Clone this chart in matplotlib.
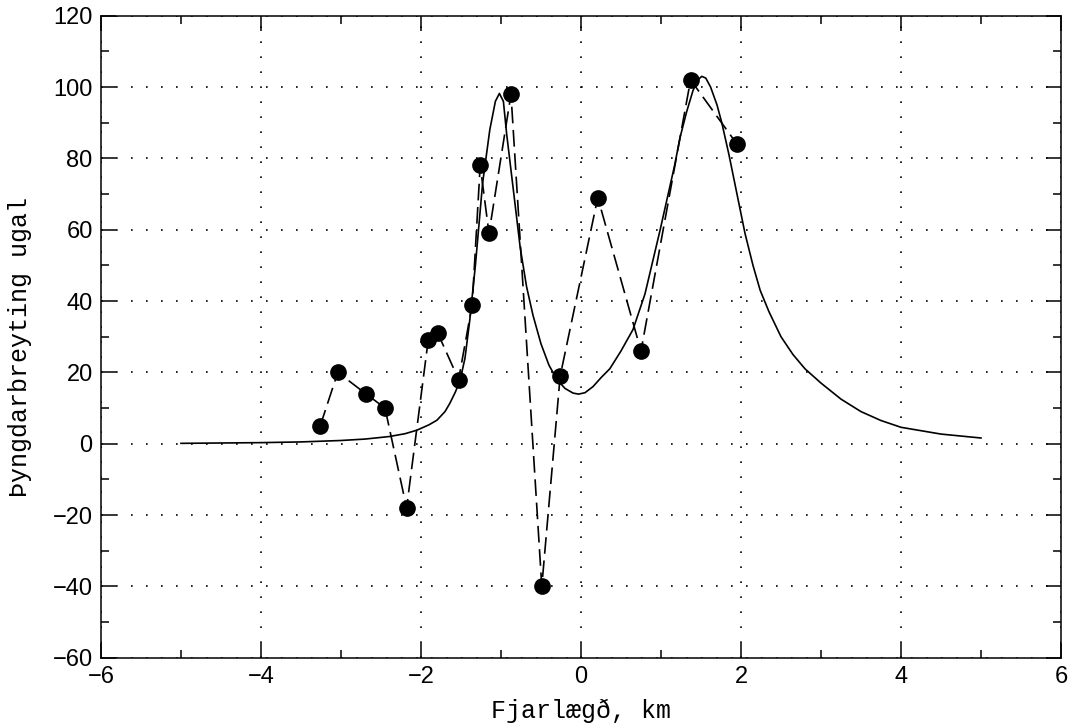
import numpy as np
import matplotlib
matplotlib.use("Agg")
import matplotlib.pyplot as plt
from matplotlib.ticker import MultipleLocator

# measured points (dashed line with dots)
obs_x = [-3.26, -3.04, -2.69, -2.45, -2.18, -1.91, -1.79, -1.53, -1.36, -1.26,
         -1.15, -0.875, -0.49, -0.26, 0.21, 0.75, 1.37, 1.95]
obs_y = [5, 20, 14, 10, -18, 29, 31, 18, 39, 78,
         59, 98, -40, 19, 69, 26, 102, 84]

# model curve (solid)
mod_x = [-5.0, -4.5, -4.0, -3.5, -3.0, -2.7, -2.4, -2.2, -2.05, -1.9, -1.8, -1.7,
         -1.64, -1.57, -1.51, -1.45, -1.39, -1.32, -1.23, -1.14, -1.07, -1.02,
         -0.97, -0.93, -0.85, -0.76, -0.68, -0.6, -0.5, -0.4, -0.3, -0.2,
         -0.1, -0.03, 0.05, 0.15, 0.25, 0.36, 0.5, 0.65, 0.8, 0.99, 1.08,
         1.17, 1.24, 1.32, 1.4, 1.46, 1.51, 1.56, 1.62, 1.7, 1.76, 1.85,
         1.95, 2.05, 2.15, 2.24, 2.35, 2.5, 2.65, 2.8, 3.0, 3.25, 3.5,
         3.75, 4.0, 4.5, 5.0]
mod_y = [0.1, 0.2, 0.3, 0.5, 0.9, 1.3, 2.0, 2.8, 3.8, 5.3, 6.6, 9.0,
         11.3, 14.5, 17.9, 24.0, 34.7, 50.0, 73.0, 88.0, 96.0, 98.2,
         96.0, 87.0, 72.0, 55.0, 44.0, 36.0, 28.0, 22.0, 18.0, 15.5,
         14.2, 13.9, 14.3, 16.0, 18.5, 21.0, 26.0, 32.0, 42.0, 60.0, 69.0,
         78.0, 86.0, 93.0, 99.0, 102.0, 103.0, 102.5, 100.0, 95.0, 90.0, 81.0,
         70.0, 59.0, 50.0, 43.0, 37.0, 30.0, 25.0, 21.0, 17.0, 12.5, 9.0,
         6.5, 4.6, 2.7, 1.6]

fig = plt.figure(figsize=(10.78, 7.23), dpi=100)
ax = fig.add_axes([0.0937, 0.0903, 0.8905, 0.888])

ax.plot(mod_x, mod_y, color="black", lw=1.2)
ax.plot(obs_x, obs_y, color="black", lw=1.2, dashes=(10, 4),
        marker="o", markersize=11, markerfacecolor="black",
        markeredgecolor="black")

ax.set_xlim(-6, 6)
ax.set_ylim(-60, 120)
ax.xaxis.set_major_locator(MultipleLocator(2))
ax.xaxis.set_minor_locator(MultipleLocator(1))
ax.yaxis.set_major_locator(MultipleLocator(20))
ax.yaxis.set_minor_locator(MultipleLocator(10))
ax.tick_params(which="both", direction="in", top=True, right=True,
               width=1.1, labelsize=17, pad=6)
ax.tick_params(which="major", length=11)
ax.tick_params(which="minor", length=5.5)
for s in ax.spines.values():
    s.set_linewidth(1.1)
for lbl in ax.get_xticklabels() + ax.get_yticklabels():
    lbl.set_family("Liberation Sans")

ax.grid(True, which="major", color="black", lw=1.2, linestyle=(0, (1, 8)))

ax.set_xlabel("Fjarlægð, km", fontsize=18, family="Liberation Mono", labelpad=8)
ax.set_ylabel("Þyngdarbreyting ugal", fontsize=18, family="Liberation Mono")
ax.yaxis.set_label_coords(-0.072, 0.484)

fig.savefig("out.png", dpi=100)
